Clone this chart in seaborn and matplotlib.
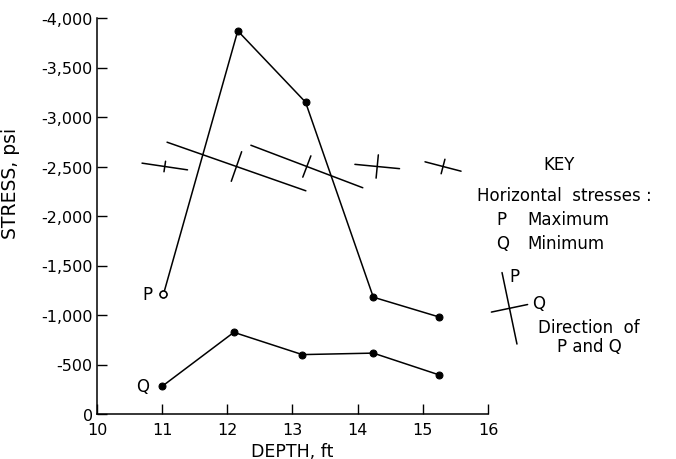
import numpy as np
import matplotlib.pyplot as plt
import seaborn as sns
from matplotlib.lines import Line2D
from matplotlib.transforms import IdentityTransform

# horizontal stresses (psi), P = maximum, Q = minimum
p_depth = [11.02, 12.16, 13.2, 14.24, 15.25]
p_stress = [-1210, -3870, -3150, -1180, -980]
q_depth = [11.0, 12.1, 13.15, 14.24, 15.25]
q_stress = [-280, -825, -600, -615, -395]

# direction crosses drawn along the -2,500 line, P angle on the page in degrees
dir_depth = [11.04, 12.14, 13.22, 14.3, 15.31]
dir_stress = [-2500, -2500, -2500, -2500, -2500]
p_angle = [-8.4, -19.3, -20.8, -5.5, -14.6]

depth_ticks = [10, 11, 12, 13, 14, 15, 16]
stress_ticks = [0, -500, -1000, -1500, -2000, -2500, -3000, -3500, -4000]

sns.set_style("ticks")
plt.rcParams['font.family'] = ['DejaVu Sans']
plt.rcParams['text.color'] = 'black'
plt.rcParams['axes.labelcolor'] = 'black'

W, H = 676, 460
fig = plt.figure(figsize=(W / 100, H / 100), dpi=100)
ax = fig.add_axes([97 / W, 45 / H, 391 / W, 396 / H])

sns.lineplot(x=p_depth, y=p_stress, ax=ax, color='black', lw=1.1, sort=False,
             marker='o', markersize=5, mfc='black', mec='black')
sns.lineplot(x=q_depth, y=q_stress, ax=ax, color='black', lw=1.1, sort=False,
             marker='o', markersize=5, mfc='black', mec='black')
# first P reading is drawn as an open circle
ax.plot(p_depth[:1], p_stress[:1], 'o', ms=5, mfc='white', mec='black', mew=1.1, zorder=5)

ax.annotate('P', xy=(p_depth[0], p_stress[0]), xytext=(-11, 0), textcoords='offset pixels',
            ha='right', va='center', fontsize=12)
ax.annotate('Q', xy=(q_depth[0], q_stress[0]), xytext=(-13, 0), textcoords='offset pixels',
            ha='right', va='center', fontsize=12)

ax.set_xlim(10, 16)
ax.set_ylim(0, -4000)
ax.set_xticks(depth_ticks)
ax.set_xticklabels([str(t) for t in depth_ticks])
ax.set_yticks(stress_ticks)
ax.set_yticklabels([f"{t:,.0f}" for t in stress_ticks])
ax.tick_params(axis='both', direction='in', length=7, width=1, labelsize=11.5, colors='black')
ax.tick_params(axis='x', pad=6)
ax.tick_params(axis='y', pad=3)
sns.despine(ax=ax)
for sp in ax.spines.values():
    sp.set_linewidth(1.1)
    sp.set_color('black')

ax.set_xlabel('DEPTH, ft', fontsize=12.5)
ax.set_ylabel('STRESS, psi', fontsize=13.5)
ax.xaxis.set_label_coords(0.5, -0.07)
ax.yaxis.set_label_coords(-0.197, 0.586)


def draw_cross(cx, cy, p_len, q_len, ang):
    # two perpendicular strokes in page pixels, the P stroke along ang
    for a, ln in ((ang, p_len), (ang + 90, q_len)):
        dx = 0.5 * ln * np.cos(np.radians(a))
        dy = 0.5 * ln * np.sin(np.radians(a))
        fig.add_artist(Line2D([cx - dx, cx + dx], [cy - dy, cy + dy], color='black',
                              lw=1.1, transform=IdentityTransform()))


px_per_psi = 0.038
for d, s, a, pv, qv in zip(dir_depth, dir_stress, p_angle, p_stress, q_stress):
    cx, cy = ax.transData.transform((d, s))
    draw_cross(cx, cy, px_per_psi * abs(pv), px_per_psi * abs(qv), a)

# key
draw_cross(509.5, H - 309.3, 73, 37, 101.8)


def ptext(x, y, s, **kw):
    fig.text(x / W, 1 - y / H, s, fontsize=12, va='center', **kw)


ptext(559, 165, 'KEY', ha='center')
ptext(477, 196, 'Horizontal  stresses :', ha='left')
ptext(496, 220, 'P', ha='left')
ptext(527, 220, 'Maximum', ha='left')
ptext(496, 244, 'Q', ha='left')
ptext(527, 244, 'Minimum', ha='left')
ptext(509, 277, 'P', ha='left')
ptext(532, 304, 'Q', ha='left')
ptext(538, 328, 'Direction  of', ha='left')
ptext(557, 347, 'P and Q', ha='left')

plt.savefig('out.png', dpi=100)
